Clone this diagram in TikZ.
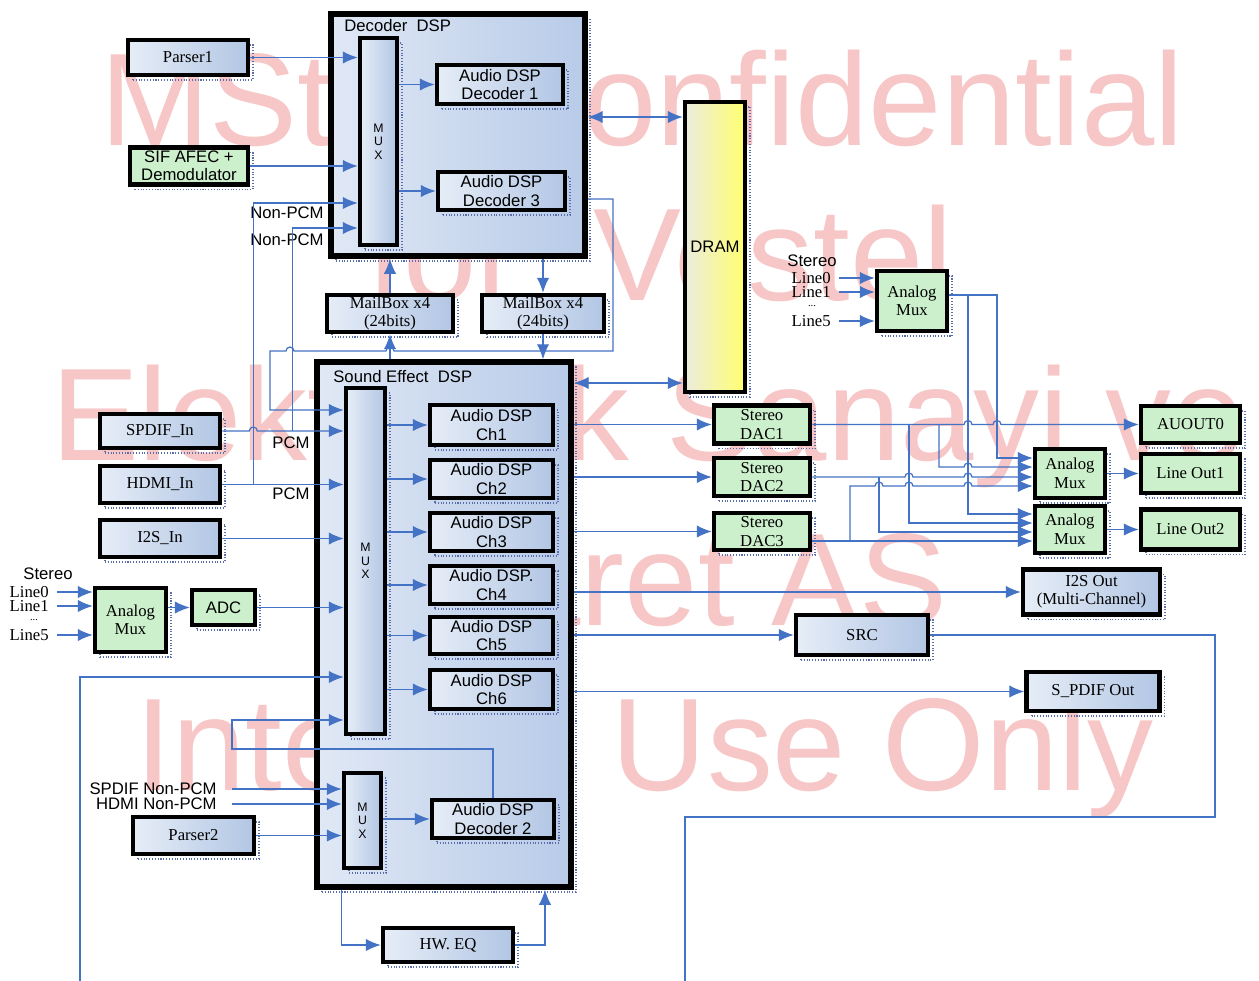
\documentclass[tikz,border=0pt]{standalone}
\usepackage{fontspec}
\setmainfont{Liberation Serif}
\setsansfont{Liberation Sans}
\usepackage{tikz}
\usepackage{xcolor}
\usetikzlibrary{arrows.meta,shadows}

\definecolor{wire}{RGB}{68,114,196}
\definecolor{boxlight}{RGB}{230,237,247}
\definecolor{boxdark}{RGB}{178,198,228}
\definecolor{dsplight}{RGB}{224,232,245}
\definecolor{dspdark}{RGB}{184,203,232}
\definecolor{boxgreen}{RGB}{204,240,204}
\definecolor{dramlight}{RGB}{236,236,222}
\definecolor{dramdark}{RGB}{255,255,112}
\definecolor{dotblue}{RGB}{90,110,170}
\definecolor{wmred}{RGB}{247,198,198}

\newcommand\hopR{arc[start angle=180,end angle=0,radius=0.08cm]}
\newcommand\hopL{arc[start angle=0,end angle=180,radius=0.08cm]}

\tikzset{
  sz/.style 2 args={minimum width=#1*0.02cm, minimum height=#2*0.02cm},
  blk/.style={draw=black, line width=2.6pt, inner sep=0pt, align=center,
    general shadow={shadow xshift=0.1cm, shadow yshift=-0.1cm, draw=dotblue,
      densely dotted, line width=0.6pt, fill=none}},
  rbox/.style={blk, left color=boxlight, right color=boxdark,
    font=\rmfamily\fontsize{9.5}{10.5}\selectfont},
  sbox/.style={rbox, font=\sffamily\fontsize{9.5}{10.5}\selectfont},
  gbox/.style={blk, fill=boxgreen, font=\rmfamily\fontsize{9.5}{10.5}\selectfont},
  mux/.style={rbox, font=\sffamily\fontsize{7}{7.6}\selectfont},
  dsp/.style={blk, line width=3.2pt, left color=dsplight, right color=dspdark},
  lbl/.style={inner sep=0pt, font=\sffamily\fontsize{9.5}{10.5}\selectfont},
  rlbl/.style={inner sep=0pt, font=\rmfamily\fontsize{9.5}{10.5}\selectfont},
  wmark/.style={anchor=base, inner sep=0pt, text=wmred,
    font=\sffamily\fontsize{75}{75}\selectfont},
  conn/.style={draw=wire, line width=0.7pt},
  arr/.style={conn, -{Latex[length=8.5pt,width=7pt]}},
  darr/.style={conn, {Latex[length=8.5pt,width=7pt]}-{Latex[length=8.5pt,width=7pt]}}
}

\begin{document}
\begin{tikzpicture}[x=0.02cm, y=-0.02cm]
  \useasboundingbox[fill=white] (0,0) rectangle (1259,981);

  % watermark
  \node[wmark] (wm1) at (642,145) {MStar Confidential};
  \node[wmark] (wm2) at (660,300) {for\ \ Vestel};
  \node[wmark] (wm3) at (648,460) {Elektronik Sanayi ve};
  \node[wmark] (wm4) at (642,625) {Ticaret AS};
  \node[wmark] (wm5) at (645,790) {Internal Use Only};

  % decoder DSP
  \node[dsp, sz={254}{242}] (dec) at (458,135) {};
  \node[lbl, anchor=base west] (declbl) at (344,31) {Decoder\ \ DSP};
  \node[mux, sz={37}{207}] (decmux) at (378.5,141.5) {M\\U\\X};
  \node[sbox, sz={126}{39}] (dec1) at (500,84.5) {Audio DSP\\Decoder 1};
  \node[sbox, sz={127}{38}] (dec3) at (501.5,191) {Audio DSP\\Decoder 3};
  \node[rbox, sz={120}{35}] (parser1) at (188,57.5) {Parser1};
  \node[gbox, sz={118}{37}, font=\sffamily\fontsize{9.5}{10.5}\selectfont] (sif) at (189,166) {SIF AFEC +\\Demodulator};
  \node[lbl] (npcm1) at (287,213) {Non-PCM};
  \node[lbl] (npcm2) at (287,240) {Non-PCM};
  \node[rbox, sz={126}{37}] (mbl) at (390,313.5) {MailBox x4\\(24bits)};
  \node[rbox, sz={122}{37}] (mbr) at (543,313.5) {MailBox x4\\(24bits)};
  \node[blk, sz={60}{290}, left color=dramlight, right color=dramdark,
    font=\sffamily\fontsize{9.5}{10.5}\selectfont] (dram) at (715,247) {DRAM};

  % sound effect DSP
  \node[dsp, sz={254}{525}] (se) at (444,624.5) {};
  \node[lbl, anchor=base west] (selbl) at (333,382) {Sound Effect\ \ DSP};
  \node[mux, sz={39}{346}] (semux) at (365.5,561) {M\\U\\X};
  \node[sbox, sz={123}{40}] (ch1) at (491.5,425) {Audio DSP\\Ch1};
  \node[sbox, sz={123}{38}] (ch2) at (491.5,479) {Audio DSP\\Ch2};
  \node[sbox, sz={123}{38}] (ch3) at (491.5,532) {Audio DSP\\Ch3};
  \node[sbox, sz={123}{38}] (ch4) at (491.5,585) {Audio DSP.\\Ch4};
  \node[sbox, sz={123}{37}] (ch5) at (491.5,635.5) {Audio DSP\\Ch5};
  \node[sbox, sz={123}{39}] (ch6) at (491.5,689.5) {Audio DSP\\Ch6};
  \node[mux, sz={37}{95}] (semux2) at (362.5,820.5) {M\\U\\X};
  \node[sbox, sz={122}{38}] (dec2) at (493,819) {Audio DSP\\Decoder 2};
  \node[rbox, sz={130}{34}] (hweq) at (448,945) {HW. EQ};

  % inputs
  \node[rbox, sz={120}{34}] (spdifin) at (160,431) {SPDIF\_In};
  \node[rbox, sz={120}{37}] (hdmiin) at (160,484.5) {HDMI\_In};
  \node[rbox, sz={120}{37}] (i2sin) at (160,538.5) {I2S\_In};
  \node[lbl] (pcm1) at (291,443) {PCM};
  \node[lbl] (pcm2) at (291,494) {PCM};
  \node[gbox, sz={71}{64}] (amuxl) at (130.5,620) {Analog\\Mux};
  \node[gbox, sz={63}{35}, font=\sffamily\fontsize{9.5}{10.5}\selectfont] (adc) at (223.5,607.5) {ADC};
  \node[lbl] (stl) at (48,574) {Stereo};
  \node[rlbl, anchor=east] (la0) at (49,592) {Line0};
  \node[rlbl, anchor=east] (la1) at (49,606) {Line1};
  \node[rlbl, font=\rmfamily\fontsize{6}{6}\selectfont] (dotsl) at (34,620) {...};
  \node[rlbl, anchor=east] (la5) at (49,635) {Line5};
  \node[lbl, anchor=east] (snp) at (217,789) {SPDIF Non-PCM};
  \node[lbl, anchor=east] (hnp) at (217,804) {HDMI Non-PCM};
  \node[rbox, sz={121}{37}] (parser2) at (193.5,835.5) {Parser2};
  \coordinate (llb) at (80,981);

  % outputs
  \node[gbox, sz={96}{38}] (dac1) at (762,424.5) {Stereo\\DAC1};
  \node[gbox, sz={96}{38}] (dac2) at (762,477) {Stereo\\DAC2};
  \node[gbox, sz={96}{37}] (dac3) at (762,531.5) {Stereo\\DAC3};
  \node[gbox, sz={70}{60}] (amuxt) at (912,301) {Analog\\Mux};
  \node[lbl] (stt) at (812,261) {Stereo};
  \node[rlbl, anchor=east] (lb0) at (831,278) {Line0};
  \node[rlbl, anchor=east] (lb1) at (831,292) {Line1};
  \node[rlbl, font=\rmfamily\fontsize{6}{6}\selectfont] (dotst) at (812,306) {...};
  \node[rlbl, anchor=east] (lb5) at (831,321) {Line5};
  \node[gbox, sz={99}{37}] (auout) at (1190.5,424.5) {AUOUT0};
  \node[gbox, sz={70}{49}] (amux1) at (1070,473.5) {Analog\\Mux};
  \node[gbox, sz={99}{39}] (lineout1) at (1190.5,473.5) {Line Out1};
  \node[gbox, sz={70}{47}] (amux2) at (1070,529.5) {Analog\\Mux};
  \node[gbox, sz={99}{40}] (lineout2) at (1190.5,529.5) {Line Out2};
  \node[rbox, sz={137}{45}] (i2sout) at (1091.5,592) {I2S Out\\(Multi-Channel)};
  \node[rbox, sz={132}{40}] (src) at (862,635) {SRC};
  \node[rbox, sz={133}{39}] (spdifout) at (1093,691.5) {S\_PDIF Out};
  \coordinate (srcend) at (685,981);

  % decoder connections
  \draw[arr] (parser1.east) -- (decmux.west |- parser1.east);
  \draw[arr] (sif.east) -- (decmux.west |- sif.east);
  \draw[arr] (decmux.east |- dec1.west) -- (dec1.west);
  \draw[arr] (decmux.east |- dec3.west) -- (dec3.west);
  \draw[arr] (hdmiin.east) -- (semux.west |- hdmiin.east);
  \draw[arr] (hdmiin.east) ++(31,0) |- (decmux.west |- 0,203);
  \draw[arr] (spdifin.east) -- ++(27,0) \hopR -- (semux.west |- spdifin.east);
  \draw[arr] (spdifin.east) ++(70,0) |- (decmux.west |- 0,228);
  \draw[arr] (dec.east |- 0,199) -- (613,199) -- (613,351) -- (394,351) \hopL
    -- (294,351) \hopL -- (270,351) |- (semux.west |- 0,410);
  \draw[arr] (mbl.north) -- (mbl.north |- dec.south);
  \draw[arr] (mbl.south |- se.north) -- (mbl.south);
  \draw[arr] (dec.south -| mbr.north) -- (mbr.north);
  \draw[arr] (mbr.south) -- (mbr.south |- se.north);
  \draw[darr] (dec.east |- 0,117) -- (dram.west |- 0,117);
  \draw[darr] (se.east |- 0,383) -- (dram.west |- 0,383);

  % effect DSP connections
  \foreach \ch in {ch1,ch2,ch3,ch4,ch5,ch6}
    \draw[arr] (semux.east |- \ch.west) -- (\ch.west);
  \draw[arr] (i2sin.east) -- (semux.west |- i2sin.east);
  \draw[arr] (amuxl.east |- adc.west) -- (adc.west);
  \draw[arr] (adc.east) -- (semux.west |- adc.east);
  \foreach \l in {la0,la1,la5}
    \draw[arr] (\l.east) ++(8,0) -- (amuxl.west |- \l.east);
  \draw[arr] (llb) |- (semux.west |- 0,677);
  \draw[arr] (dec2.north) |- (232,749) |- (semux.west |- 0,720);
  \draw[arr] (snp.east) ++(15,0) -- (semux2.west |- snp.east);
  \draw[arr] (hnp.east) ++(15,0) -- (semux2.west |- hnp.east);
  \draw[arr] (parser2.east) -- (semux2.west |- parser2.east);
  \draw[arr] (semux2.east |- dec2.west) -- (dec2.west);
  \draw[arr] (semux2.west |- se.south) |- (hweq.west);
  \draw[arr] (hweq.east) -| (se.south -| 545,0);

  % outputs
  \foreach \o in {dac1,dac2,dac3,i2sout,src,spdifout}
    \draw[arr] (se.east |- \o.west) -- (\o.west);
  \draw[conn] (src.east) -| (1215,817) -| (srcend);
  \foreach \l in {lb0,lb1,lb5}
    \draw[arr] (\l.east) ++(8,0) -- (amuxt.west |- \l.east);
  \draw[arr] (amuxt.east |- 0,295) -- (997,295) |- (amux1.west |- 0,458);
  \draw[arr] (968,295) |- (amux2.west |- 0,514);
  \draw[arr] (dac1.east) -- (964,424.5) \hopR -- (993,424.5) \hopR -- (auout.west);
  \draw[arr] (939,424.5) |- (964,467) \hopR -- (amux1.west |- 0,467);
  \draw[arr] (909,424.5) |- (amux2.west |- 0,523);
  \draw[arr] (dac2.east) -- (905,477) \hopR -- (964,477) \hopR -- (amux1.west |- 0,477);
  \draw[arr] (879,477) |- (amux2.west |- 0,532);
  \draw[arr] (dac3.east |- 0,541) -- (amux2.west |- 0,541);
  \draw[arr] (850,541) |- (875,486) \hopR -- (905,486) \hopR -- (964,486) \hopR
    -- (amux1.west |- 0,486);
  \draw[arr] (amux1.east) -- (lineout1.west);
  \draw[arr] (amux2.east) -- (lineout2.west);
\end{tikzpicture}
\end{document}
